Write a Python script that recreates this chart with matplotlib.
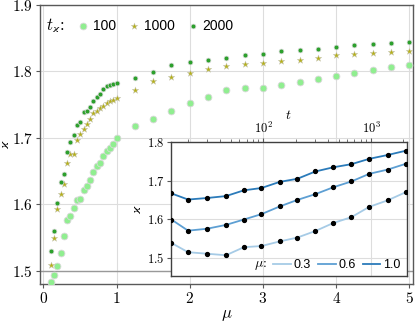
import numpy as np
import matplotlib
matplotlib.use("Agg")
import matplotlib.pyplot as plt
from matplotlib.lines import Line2D

plt.rcParams['font.family'] = 'serif'
plt.rcParams['font.serif'] = ['cmr10']
plt.rcParams['mathtext.fontset'] = 'cm'
plt.rcParams['axes.formatter.use_mathtext'] = True

# main panel: kappa vs mu for three t_kappa
mu_dense = np.linspace(0.1, 1.0, 21)
mu_sparse = np.arange(1.25, 5.01, 0.25)
mu = np.concatenate([mu_dense, mu_sparse])

k_100 = [1.4825, 1.4935, 1.5065, 1.527, 1.552, 1.5765, 1.582, 1.5945, 1.606, 1.608,
         1.6215, 1.628, 1.6365, 1.6485, 1.6575, 1.6625, 1.6725, 1.680, 1.684, 1.691, 1.700,
         1.718, 1.7285, 1.740, 1.752, 1.762, 1.7715, 1.7755, 1.7755, 1.779, 1.7835,
         1.7885, 1.793, 1.798, 1.8015, 1.806, 1.8095]
k_1000 = [1.5085, 1.549, 1.5925, 1.6155, 1.6305, 1.6615, 1.6755, 1.6755, 1.6975, 1.706,
          1.713, 1.721, 1.728, 1.7375, 1.741, 1.745, 1.748, 1.752, 1.755, 1.757, 1.760,
          1.772, 1.786, 1.7915, 1.798, 1.8035, 1.8085, 1.8115, 1.8125, 1.8155, 1.817,
          1.8205, 1.824, 1.8265, 1.828, 1.8295, 1.831]
k_2000 = [1.530, 1.5595, 1.6015, 1.6335, 1.645, 1.6785, 1.6935, 1.705, 1.7195, 1.7245,
          1.7385, 1.741, 1.746, 1.755, 1.7615, 1.7655, 1.7735, 1.7775, 1.7795, 1.7815, 1.7825,
          1.7895, 1.7995, 1.8095, 1.8135, 1.8165, 1.820, 1.825, 1.8265, 1.830, 1.8325,
          1.8345, 1.837, 1.8395, 1.841, 1.8425, 1.844]

# inset: kappa vs t for three mu
t = [14, 20, 30, 45, 66, 96, 142, 207, 304, 447, 656, 964, 1430, 2100]
k_mu03 = [1.538, 1.514, 1.510, 1.506, 1.527, 1.530, 1.542, 1.552, 1.569, 1.590,
          1.605, 1.632, 1.649, 1.670]
k_mu06 = [1.599, 1.570, 1.575, 1.585, 1.599, 1.613, 1.633, 1.650, 1.665, 1.683,
          1.698, 1.718, 1.729, 1.744]
k_mu10 = [1.667, 1.651, 1.655, 1.660, 1.675, 1.681, 1.697, 1.705, 1.724, 1.735,
          1.743, 1.757, 1.767, 1.778]

W, H = 415, 325
fig = plt.figure(figsize=(W / 100, H / 100), dpi=100)
ax = fig.add_axes([40 / W, 1 - 284 / H, 372.7 / W, 279 / H])

grid_c = '#dddddd'
spine_c = '0.35'
ax.grid(True, color=grid_c, lw=0.8, zorder=0)
ax.set_axisbelow(True)
ax.axhline(1.5, color='0.6', lw=1.0, zorder=1)

edge = '0.85'
s1 = ax.scatter(mu, k_100, s=24, color='lightgreen', edgecolors=edge, linewidths=0.6, zorder=3)
s2 = ax.scatter(mu, k_1000, s=26, marker='*', color='#b5b01c', edgecolors='0.8', linewidths=0.3, zorder=3)
s3 = ax.scatter(mu, k_2000, s=12, color='tab:green', edgecolors=edge, linewidths=0.5, zorder=3)

ax.set_xlim(-0.045, 5.045)
ax.set_ylim(1.48, 1.9)
ax.set_xticks([0, 1, 2, 3, 4, 5])
ax.set_yticks([1.5, 1.6, 1.7, 1.8, 1.9])
ax.tick_params(labelsize=11, direction='out', length=3, color=spine_c, pad=2)
for sp in ax.spines.values():
    sp.set_color(spine_c)
    sp.set_linewidth(1.0)
ax.set_xlabel(r'$\mu$', fontsize=12, va='center')
ax.xaxis.set_label_coords(0.5, (284 - 315) / 279)
ax.set_ylabel(r'$\varkappa$', fontsize=10, va='center')
ax.yaxis.set_label_coords((6 - 40) / 372.7, 0.5)

ax.text(0.016, 0.925, r'$t_\varkappa$:', transform=ax.transAxes, fontsize=12,
        ha='left', va='center')
ax.legend([s1, s2, s3], ['100', '1000', '2000'], loc='center left',
          bbox_to_anchor=(0.1006, 0.925), ncol=3, frameon=False, scatterpoints=1,
          handlelength=0.8, handletextpad=0.3, columnspacing=0.9, borderpad=0,
          borderaxespad=0, prop={'family': 'Liberation Sans', 'size': 10})

# inset
ins = fig.add_axes([170.7 / W, 1 - 276 / H, 236 / W, 133.7 / H], zorder=5)
ins.set_facecolor('white')
ins.grid(True, color=grid_c, lw=0.8, zorder=0)
ins.set_axisbelow(True)
blues = ['#a6cbe6', '#5d9fd3', '#2b7bba']
for vals, c in zip([k_mu03, k_mu06, k_mu10], blues):
    ins.plot(t, vals, color=c, lw=1.3, zorder=2)
    ins.plot(t, vals, ls='none', marker='o', ms=2.8, color='black', zorder=3)
ins.set_xscale('log')
ins.set_xlim(13.8, 2145)
ins.set_ylim(1.452, 1.8)
ins.set_yticks([1.5, 1.6, 1.7, 1.8])
ins.xaxis.tick_top()
ins.xaxis.set_label_position('top')
ins.tick_params(labelsize=9, direction='out', length=3, color=spine_c, pad=1.5)
ins.tick_params(which='minor', length=2, color=spine_c)
for sp in ins.spines.values():
    sp.set_color('0.25')
    sp.set_linewidth(1.0)
ins.set_xlabel(r'$t$', fontsize=10, labelpad=1)
ins.set_ylabel(r'$\varkappa$', fontsize=10, labelpad=2)

handles = [Line2D([], [], color=c, lw=1.3) for c in blues]
ins.legend(handles, ['0.3', '0.6', '1.0'], loc='center left',
           bbox_to_anchor=(0.435, 0.082), ncol=3, frameon=False,
           handlelength=1.4, handletextpad=0.22, columnspacing=0.58, borderpad=0,
           borderaxespad=0, prop={'family': 'Liberation Sans', 'size': 9})
ins.text((267 - 170.7) / 236, 0.082, r'$\mu$:', transform=ins.transAxes,
         fontsize=10, ha='right', va='center')

fig.savefig('out.png', dpi=100)
